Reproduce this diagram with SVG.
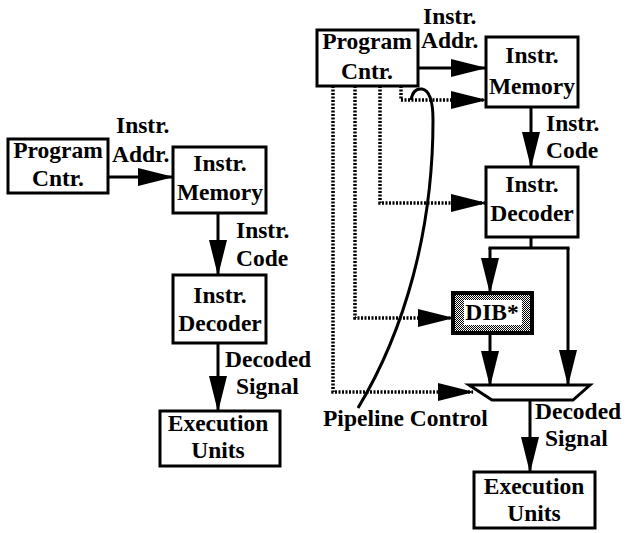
<svg xmlns="http://www.w3.org/2000/svg" width="632" height="533" viewBox="0 0 632 533">
  <style>
    .box { fill: #fff; stroke: #000; stroke-width: 3; }
    .t { font-family: "Liberation Serif", "Times New Roman", serif; font-weight: bold; font-size: 23.5px; fill: #000; }
    .c { text-anchor: middle; }
    .wire { fill: none; stroke: #000; stroke-width: 3; }
    .dot { fill: none; stroke: #000; stroke-width: 3.5; stroke-dasharray: 2 1.5; }
  </style>
  <defs>
    <marker id="ah" markerUnits="userSpaceOnUse" markerWidth="36" markerHeight="20" viewBox="0 0 36 20" refX="35" refY="10" orient="auto">
      <path d="M0,1 L36,10 L0,19 Z" fill="#000"/>
    </marker>
    <pattern id="stipple" width="2" height="2" patternUnits="userSpaceOnUse">
      <rect width="2" height="2" fill="#fff"/>
      <rect width="1" height="1" fill="#000"/>
      <rect x="1" y="1" width="1" height="1" fill="#000"/>
    </pattern>
  </defs>

  <!-- single-stage fetch/decode path -->
  <g id="pc-left">
    <rect class="box" x="8" y="139" width="100" height="54"/>
    <text class="t c" x="58" y="158">Program</text>
    <text class="t c" x="58" y="186">Cntr.</text>
  </g>
  <g id="mem-left">
    <rect class="box" x="173" y="147" width="93" height="66"/>
    <text class="t c" x="220" y="171">Instr.</text>
    <text class="t c" x="220" y="200">Memory</text>
  </g>
  <g id="dec-left">
    <rect class="box" x="173" y="275" width="93" height="68"/>
    <text class="t c" x="220" y="303">Instr.</text>
    <text class="t c" x="220" y="331">Decoder</text>
  </g>
  <g id="exe-left">
    <rect class="box" x="160" y="411" width="120" height="55"/>
    <text class="t c" x="218" y="431">Execution</text>
    <text class="t c" x="218" y="458">Units</text>
  </g>

  <!-- pipelined path with decoded-instruction buffer -->
  <g id="pc-right">
    <rect class="box" x="317" y="30" width="101" height="56"/>
    <text class="t c" x="367" y="49">Program</text>
    <text class="t c" x="367" y="79">Cntr.</text>
  </g>
  <g id="mem-right">
    <rect class="box" x="486" y="37" width="92" height="70"/>
    <text class="t c" x="532" y="63">Instr.</text>
    <text class="t c" x="532" y="94">Memory</text>
  </g>
  <g id="dec-right">
    <rect class="box" x="486" y="167" width="92" height="70"/>
    <text class="t c" x="532" y="192">Instr.</text>
    <text class="t c" x="532" y="221">Decoder</text>
  </g>
  <g id="dib">
    <rect x="453" y="293" width="79" height="40" fill="url(#stipple)" stroke="#000" stroke-width="4"/>
    <rect x="464" y="300" width="58" height="25" fill="#fff"/>
    <text class="t c" x="492" y="320">DIB*</text>
  </g>
  <g id="mux">
    <polygon points="469,385 590,385 573,400 492,400" fill="#fff" stroke="#000" stroke-width="3" stroke-linejoin="miter"/>
  </g>
  <g id="exe-right">
    <rect class="box" x="474" y="472" width="121" height="56"/>
    <text class="t c" x="534" y="494">Execution</text>
    <text class="t c" x="534" y="521">Units</text>
  </g>

  <g id="connectors">
    <!-- left -->
    <line class="wire" x1="108" y1="177" x2="173" y2="177" marker-end="url(#ah)"/>
    <line class="wire" x1="218" y1="213" x2="218" y2="275" marker-end="url(#ah)"/>
    <line class="wire" x1="218" y1="343" x2="218" y2="411" marker-end="url(#ah)"/>
    <!-- right: address and instruction flow -->
    <line class="wire" x1="418" y1="68" x2="486" y2="68" marker-end="url(#ah)"/>
    <line class="wire" x1="531" y1="107" x2="531" y2="167" marker-end="url(#ah)"/>
    <path class="wire" d="M531,237 V248 M488.5,248 H569.5"/>
    <path class="wire" d="M490,248 V293" marker-end="url(#ah)"/>
    <path class="wire" d="M568,248 V385" marker-end="url(#ah)"/>
    <line class="wire" x1="490" y1="333" x2="490" y2="386" marker-end="url(#ah)"/>
    <line class="wire" x1="530" y1="400" x2="530" y2="472" marker-end="url(#ah)"/>
    <!-- right: pipeline control taps from the program counter -->
    <path class="dot" d="M401,86 V100 H486" marker-end="url(#ah)"/>
    <path class="dot" d="M380,86 V203 H486" marker-end="url(#ah)"/>
    <path class="dot" d="M355,86 V318 H453" marker-end="url(#ah)"/>
    <path class="dot" d="M333,86 V392 H473" marker-end="url(#ah)"/>
    <path class="wire" d="M411,100 Q413,88 422,89 Q433,91 433,120 C433,230 405,330 358,408"/>
  </g>

  <g id="labels">
    <text class="t" x="116" y="133">Instr.</text>
    <text class="t" x="112" y="162">Addr.</text>
    <text class="t" x="236" y="238">Instr.</text>
    <text class="t" x="236" y="266">Code</text>
    <text class="t" x="225" y="367">Decoded</text>
    <text class="t" x="236" y="394">Signal</text>
    <text class="t" x="423" y="24">Instr.</text>
    <text class="t" x="421" y="48">Addr.</text>
    <text class="t" x="546" y="131">Instr.</text>
    <text class="t" x="546" y="158">Code</text>
    <text class="t" x="323" y="426">Pipeline Control</text>
    <text class="t" x="535" y="419">Decoded</text>
    <text class="t" x="545" y="446">Signal</text>
  </g>
</svg>
